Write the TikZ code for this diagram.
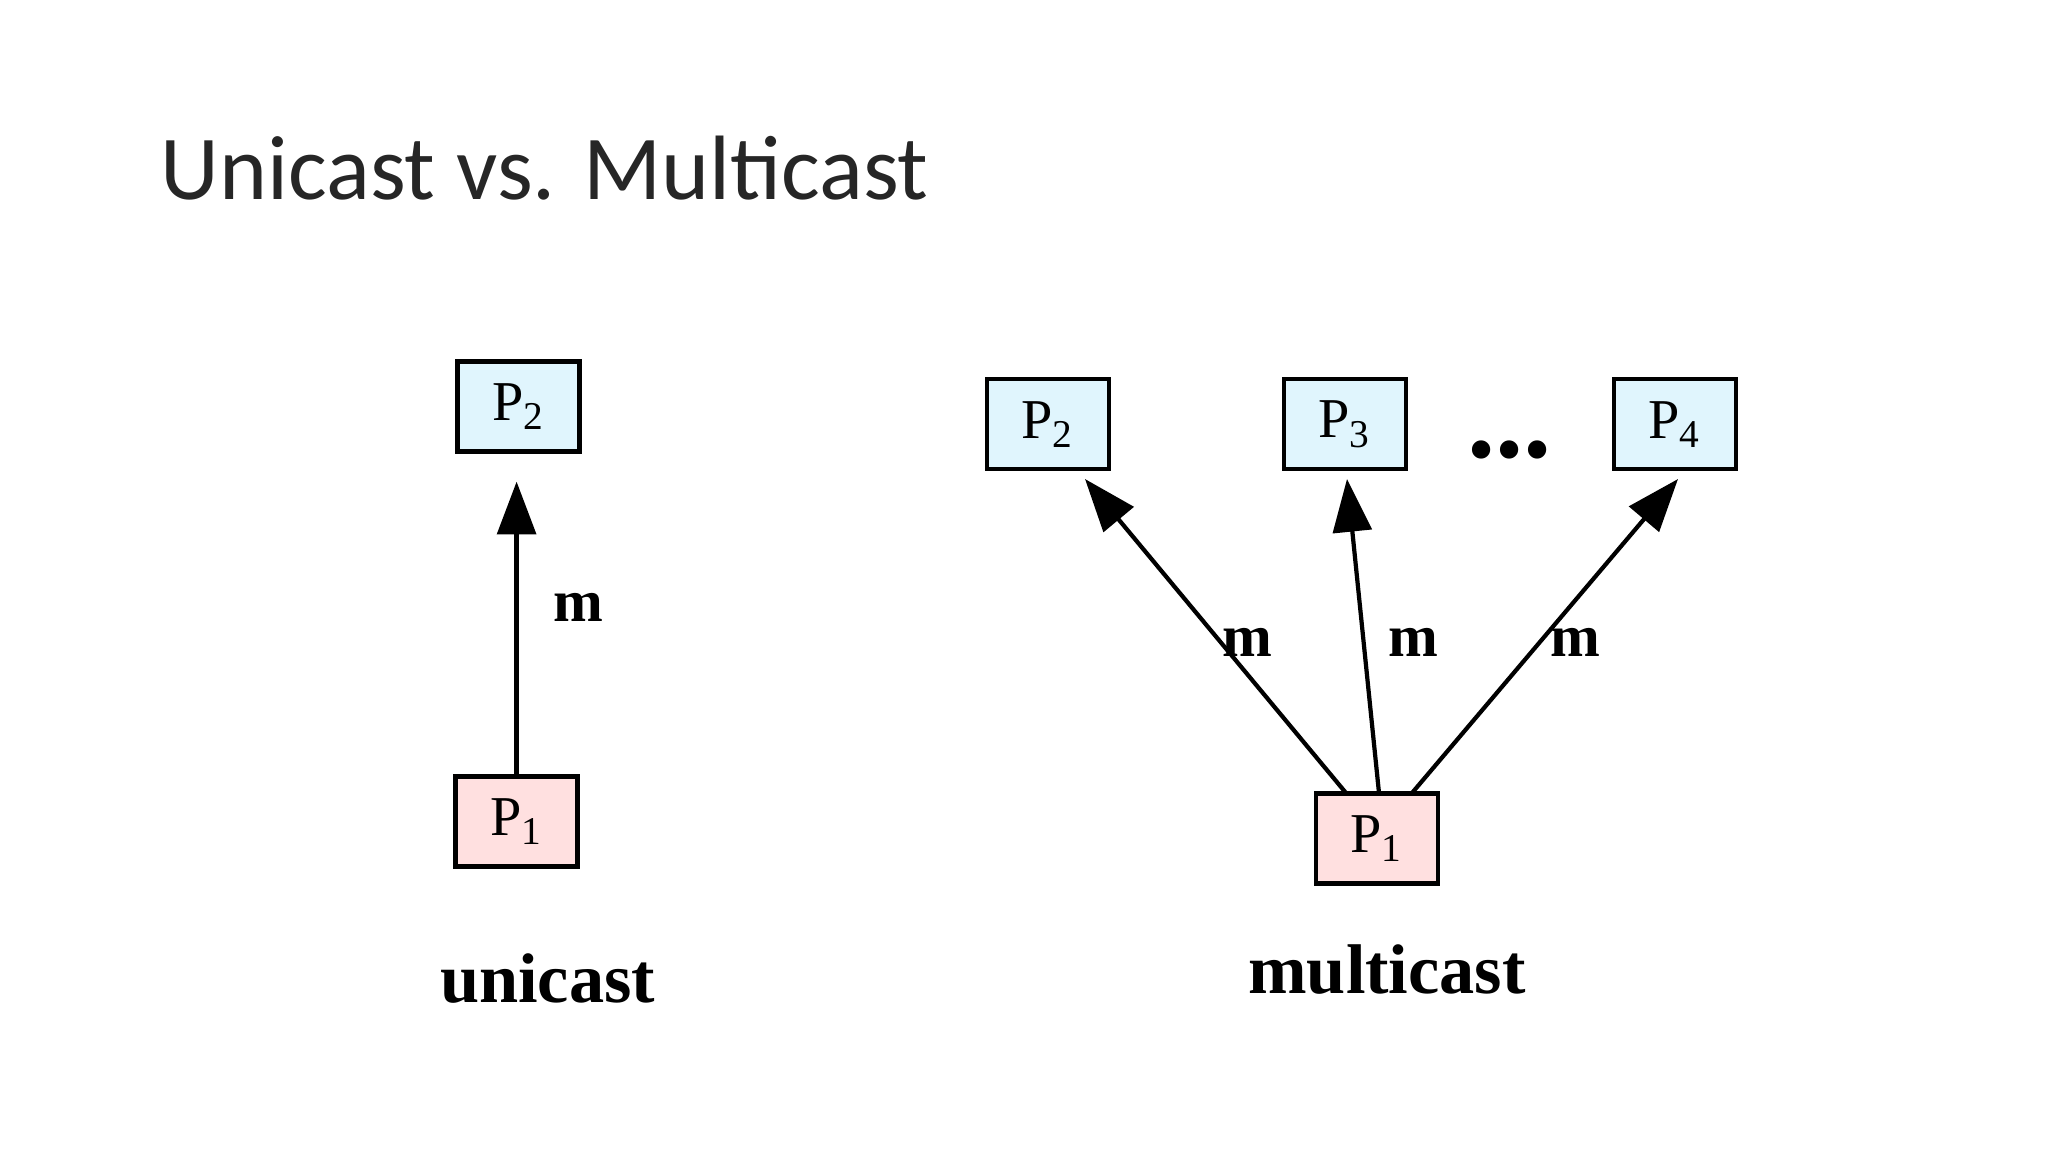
\documentclass[tikz,border=0pt]{standalone}
\usepackage{fontspec}
\setmainfont{Liberation Serif}
\newfontfamily\ttl{Carlito}
\usetikzlibrary{arrows.meta}
\newcommand{\pn}[1]{P\textsubscript{#1}}
\begin{document}
\begin{tikzpicture}[x=0.01cm,y=-0.01cm,
  box/.style={draw,line width=1.2pt,minimum width=122*0.01cm,minimum height=90*0.01cm,inner sep=0pt,font=\fontsize{16}{18}\selectfont},
  dst/.style={box,fill=cyan!12},
  src/.style={box,fill=red!12},
  arr/.style={line width=1.2pt,-{Triangle[length=15pt,width=11pt]}},
  lab/.style={font=\bfseries\fontsize{17}{20}\selectfont}]
\useasboundingbox (0,0) rectangle (2048,1152);
\node[anchor=base west,inner sep=0pt,text=black!85,font=\ttl\fontsize{26}{30}\selectfont] (title) at (160,200) {Unicast vs. Multicast};
% unicast
\node[dst] (u2) at (518.6,406.4) {\pn{2}};
\node[src] (u1) at (516.6,821.5) {\pn{1}};
\draw[arr,shorten >=8pt] (u1.north) -- (u1.north |- u2.south);
\node[lab] (um) at (578,607) {m};
\node[font=\bfseries\fontsize{20}{24}\selectfont] (uc) at (547.6,979) {unicast};
% multicast
\node[dst] (m2) at (1047.8,424.3) {\pn{2}};
\node[dst] (m3) at (1344.7,424.3) {\pn{3}};
\node[dst] (m4) at (1674.6,424.3) {\pn{4}};
\node[src] (m1) at (1377,838.6) {\pn{1}};
\node[font=\bfseries\fontsize{32}{32}\selectfont] (dots) at (1509.6,450) {...};
\coordinate (s2) at (1346,793);
\coordinate (s3) at (1379,793);
\coordinate (s4) at (1412,793);
\coordinate (e2) at (1085,479);
\coordinate (e3) at (1347,479);
\coordinate (e4) at (1678,479);
\draw[arr] (s2) -- (e2);
\draw[arr] (s3) -- (e3);
\draw[arr] (s4) -- (e4);
\node[lab] (mm2) at (1247,642.6) {m};
\node[lab] (mm3) at (1413,642.6) {m};
\node[lab] (mm4) at (1575.6,642.6) {m};
\node[font=\bfseries\fontsize{20}{24}\selectfont] (mc) at (1387,970) {multicast};
\end{tikzpicture}
\end{document}
